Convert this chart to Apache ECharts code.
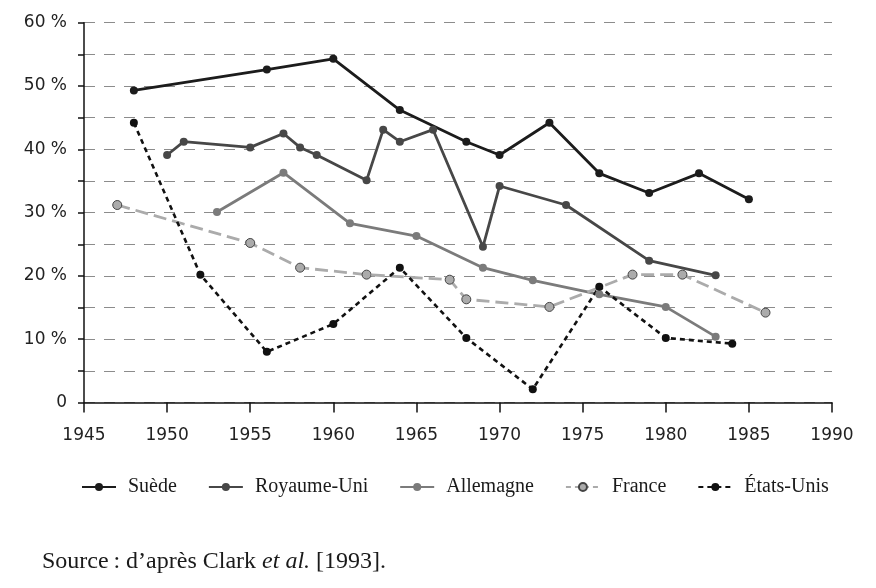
<!DOCTYPE html>
<html>
<head>
<meta charset="utf-8">
<title>Taux de syndicalisation</title>
<script src="https://cdn.jsdelivr.net/npm/echarts@6/dist/echarts.min.js"></script>
<style>
html, body { margin: 0; padding: 0; background: #fff; }
#main { width: 876px; height: 588px; }
</style>
</head>
<body>
<div id="main"></div>
<script>
// données (années, %)
var suedeYears = [1948, 1956, 1960, 1964, 1968, 1970, 1973, 1976, 1979, 1982, 1985];
var suedeValues = [49.3, 52.6, 54.3, 46.2, 41.2, 39.1, 44.2, 36.2, 33.1, 36.2, 32.1];

var ruYears = [1950, 1951, 1955, 1957, 1958, 1959, 1962, 1963, 1964, 1966, 1969, 1970, 1974, 1979, 1983];
var ruValues = [39.1, 41.2, 40.3, 42.5, 40.3, 39.1, 35.1, 43.1, 41.2, 43.1, 24.6, 34.2, 31.2, 22.4, 20.1];

var allYears = [1953, 1957, 1961, 1965, 1969, 1972, 1976, 1980, 1983];
var allValues = [30.1, 36.3, 28.3, 26.3, 21.3, 19.3, 17.1, 15.1, 10.4];

var frYears = [1947, 1955, 1958, 1962, 1967, 1968, 1973, 1978, 1981, 1986];
var frValues = [31.2, 25.2, 21.3, 20.2, 19.4, 16.3, 15.1, 20.2, 20.2, 14.2];

var usYears = [1948, 1952, 1956, 1960, 1964, 1968, 1972, 1976, 1980, 1984];
var usValues = [44.2, 20.2, 8.0, 12.4, 21.3, 10.2, 2.1, 18.3, 10.2, 9.3];

var xTicks = [1945, 1990, 5];   // min, max, pas
var yTicks = [0, 60, 5];

function pairs(xs, ys) {
    return xs.map(function (x, i) { return [x, ys[i]]; });
}

var myChart = echarts.init(document.getElementById('main'));

var option = {
    animation: false,
    backgroundColor: '#fff',
    grid: { left: 84, right: 44, top: 22.7, bottom: 185.5, containLabel: false },
    xAxis: {
        type: 'value',
        min: xTicks[0], max: xTicks[1], interval: xTicks[2],
        axisLine: { lineStyle: { color: '#111', width: 1.5 } },
        axisTick: { length: 10, lineStyle: { color: '#111', width: 1.5 } },
        axisLabel: {
            margin: 25, color: '#222', fontFamily: 'DejaVu Sans', fontSize: 17,
            formatter: function (v) { return String(v); }
        },
        splitLine: { show: false }
    },
    yAxis: {
        type: 'value',
        min: yTicks[0], max: yTicks[1], interval: yTicks[2],
        axisLine: { show: true, lineStyle: { color: '#111', width: 1.5 } },
        axisTick: { show: true, length: 6, lineStyle: { color: '#111', width: 1.5 } },
        axisLabel: {
            margin: 17, color: '#222', fontFamily: 'DejaVu Sans', fontSize: 17,
            formatter: function (v) {
                if (v % 10 !== 0) return '';
                return v === 0 ? '0' : v + ' %';
            }
        },
        splitLine: { show: true, lineStyle: { color: '#8c8c8c', width: 1.2, type: [11, 9] } }
    },
    legend: {
        left: 76, top: 472,
        itemWidth: 34, itemHeight: 10, itemGap: 31,
        textStyle: { fontFamily: 'Liberation Serif', fontSize: 20, color: '#1a1a1a', padding: [0, 0, 0, 7] },
        data: [
            'Suède', 'Royaume-Uni', 'Allemagne',
            { name: 'France', lineStyle: { type: [5, 4] } },
            'États-Unis'
        ]
    },
    series: [
        {
            name: 'Suède', type: 'line', data: pairs(suedeYears, suedeValues),
            symbol: 'circle', symbolSize: 8,
            lineStyle: { color: '#1c1c1c', width: 2.8 },
            itemStyle: { color: '#1c1c1c' }
        },
        {
            name: 'Royaume-Uni', type: 'line', data: pairs(ruYears, ruValues),
            symbol: 'circle', symbolSize: 8,
            lineStyle: { color: '#474747', width: 2.8 },
            itemStyle: { color: '#474747' }
        },
        {
            name: 'Allemagne', type: 'line', data: pairs(allYears, allValues),
            symbol: 'circle', symbolSize: 8,
            lineStyle: { color: '#7b7b7b', width: 2.8 },
            itemStyle: { color: '#7b7b7b' }
        },
        {
            name: 'France', type: 'line', data: pairs(frYears, frValues),
            symbol: 'circle', symbolSize: 9,
            lineStyle: { color: '#ababab', width: 2.8, type: [13, 6] },
            itemStyle: { color: '#ababab', borderColor: '#444', borderWidth: 1 }
        },
        {
            name: 'États-Unis', type: 'line', data: pairs(usYears, usValues),
            symbol: 'circle', symbolSize: 8,
            lineStyle: { color: '#111', width: 2.6, type: [5, 4] },
            itemStyle: { color: '#111' }
        }
    ],
    graphic: [
        {
            type: 'text', left: 42, top: 550,
            style: {
                text: '{n|Source\u2009: d’après Clark }{i|et al.}{n| [1993].}',
                rich: {
                    n: { fontFamily: 'Liberation Serif', fontSize: 24, fill: '#1a1a1a' },
                    i: { fontFamily: 'Liberation Serif', fontSize: 24, fontStyle: 'italic', fill: '#1a1a1a' }
                }
            }
        }
    ]
};

myChart.setOption(option);
</script>
</body>
</html>
